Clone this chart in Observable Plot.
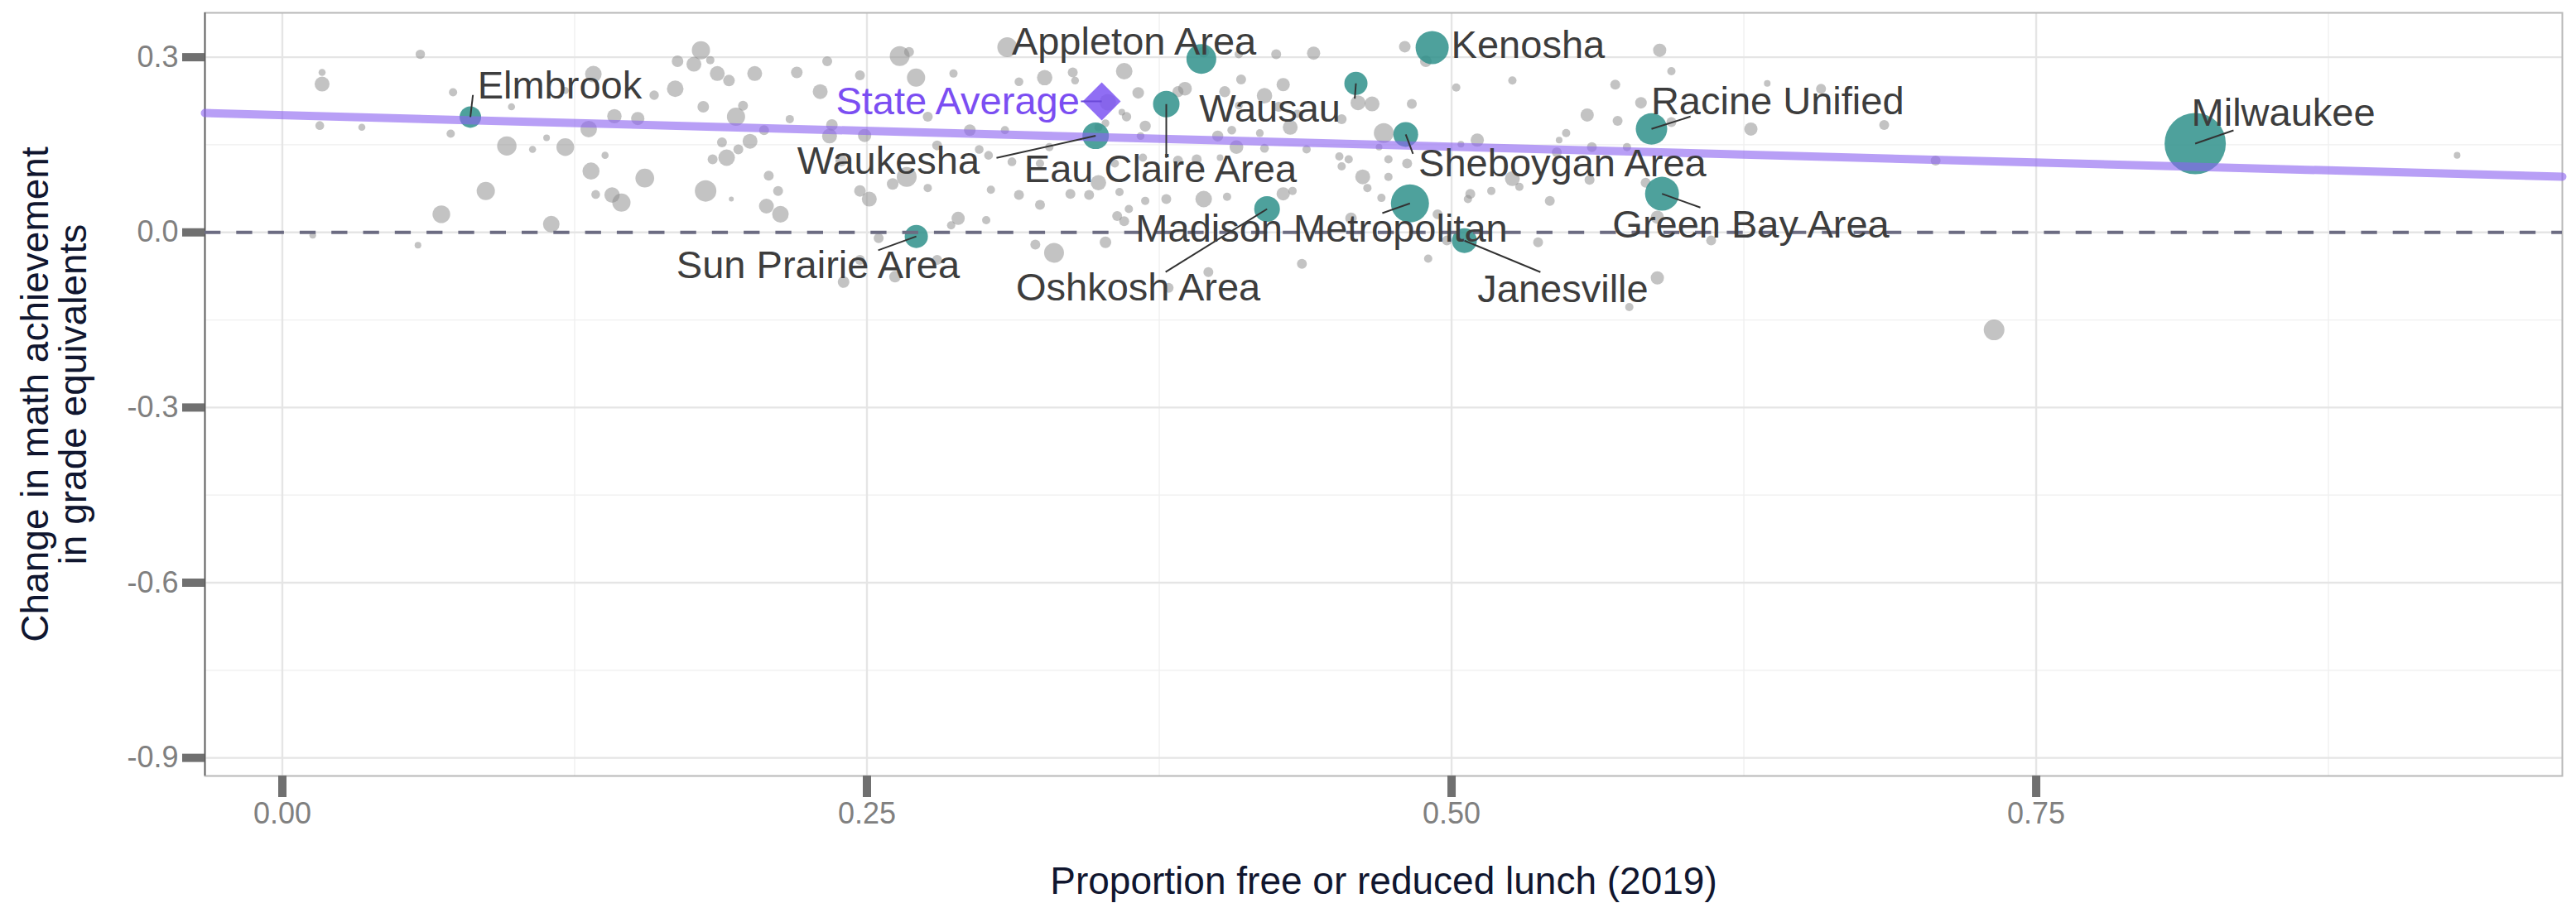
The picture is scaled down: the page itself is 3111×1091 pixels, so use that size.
<!DOCTYPE html>
<html><head><meta charset="utf-8">
<script src="https://cdn.jsdelivr.net/npm/d3@7"></script>
<script src="https://cdn.jsdelivr.net/npm/@observablehq/plot@0.6"></script>
<style>
html,body{margin:0;padding:0;background:#fff;}
#chart{width:3111px;height:1091px;}
</style>
</head><body><div id="chart"></div>
<script>
// ---------- DATA ----------
const districtNames = ["Elmbrook","Sun Prairie Area","Waukesha","Eau Claire Area","Appleton Area","Oshkosh Area","Wausau","Sheboygan Area","Madison Metropolitan","Kenosha","Janesville","Racine Unified","Green Bay Area","Milwaukee"];
const districtLunch  = [0.0804,0.2711,0.3478,0.3780,0.3930,0.4211,0.4591,0.4804,0.4822,0.4917,0.5055,0.5855,0.5900,0.8180];
const districtChange = [0.1975,-0.0070,0.1654,0.2197,0.2970,0.0400,0.2551,0.1677,0.0496,0.3165,-0.0142,0.1771,0.0661,0.1521];
const districtEnroll = [9260,10740,14030,14030,17750,13160,10740,12330,28980,21920,12330,19780,23030,75000];

const otherLunch = [
  0.059,0.017,0.017,0.073,0.016,0.034,0.072,0.098,0.121,0.133,0.159,0.142,0.152,0.131,0.096,0.107,0.113,0.121,0.138,0.132,0.155,0.087,0.134,0.141,0.145,0.068,0.115,0.013,0.058,
  0.179,0.169,0.176,0.183,0.186,0.191,0.202,0.168,0.180,0.194,0.197,0.206,0.188,0.200,0.195,0.190,0.184,0.208,0.181,0.192,0.207,0.213,0.212,0.217,0.220,0.230,0.233,0.234,0.235,0.239,0.247,0.249,0.247,0.251,0.255,0.264,0.268,0.271,0.261,0.267,0.276,0.262,0.247,0.240,0.280,0.287,0.276,0.280,0.289,0.286,0.301,0.310,0.322,0.330,0.379,0.396,0.352,0.357,0.360,0.428,0.426,0.431,0.434,0.428,0.432,0.436,0.425,0.441,0.438,
  0.360,0.326,0.338,0.339,0.315,0.366,0.353,0.359,0.361,0.369,0.367,0.383,0.386,0.403,0.410,0.420,0.409,0.394,0.409,0.294,0.309,0.298,0.302,0.312,0.324,0.328,0.349,0.352,0.356,0.368,0.383,0.391,0.400,0.408,0.420,0.401,0.303,0.315,0.324,0.337,0.345,0.349,0.358,0.362,0.369,0.378,0.394,0.404,0.406,0.418,
  0.480,0.489,0.460,0.466,0.483,0.502,0.526,0.589,0.594,0.570,0.635,0.658,0.581,0.558,0.571,0.594,0.628,0.685,0.707,0.471,0.453,0.469,0.511,0.504,0.549,0.546,0.560,0.575,0.545,0.452,0.456,0.473,0.481,0.453,0.462,0.473,0.464,0.526,0.529,0.517,0.508,0.507,0.542,0.559,0.583,0.470,0.457,0.494,0.498,0.490,0.537,0.588,0.611,0.588,0.576,
  0.930,0.732
];
const otherChange = [
  0.305,0.274,0.254,0.240,0.183,0.180,0.169,0.215,0.243,0.271,0.235,0.199,0.195,0.177,0.148,0.142,0.162,0.146,0.132,0.105,0.093,0.071,0.065,0.064,0.051,0.031,0.014,-0.005,-0.022,
  0.312,0.293,0.288,0.295,0.272,0.260,0.272,0.246,0.215,0.198,0.217,0.175,0.154,0.156,0.142,0.128,0.125,0.097,0.071,0.057,0.045,0.031,0.071,0.194,0.274,0.241,0.293,0.165,0.184,0.123,0.269,0.166,0.071,0.057,-0.010,0.302,0.309,0.265,0.083,0.095,0.076,-0.076,-0.047,-0.085,-0.047,0.272,0.198,0.149,0.024,0.012,0.021,0.317,-0.021,-0.035,-0.095,-0.068,-0.017,0.028,0.019,0.253,0.215,0.180,0.203,0.066,0.071,-0.054,0.305,0.307,0.142,
  0.276,0.265,0.274,0.260,0.258,0.239,0.223,0.206,0.198,0.182,0.165,0.241,0.246,0.241,0.262,0.234,0.217,0.309,0.305,0.175,0.175,0.142,0.132,0.121,0.118,0.146,0.180,0.187,0.118,0.128,0.123,0.125,0.165,0.146,0.144,0.128,0.073,0.064,0.047,0.066,0.064,0.085,0.069,0.040,0.054,0.057,0.057,0.061,0.175,0.170,
  0.318,0.293,0.222,0.220,0.220,0.248,0.260,0.312,0.276,0.253,0.255,0.246,0.222,0.201,0.191,0.189,0.177,0.184,0.123,0.170,0.194,0.146,0.158,0.151,0.170,0.158,0.146,0.146,0.137,0.130,0.125,0.125,0.118,0.113,0.095,0.095,0.076,0.092,0.078,0.071,0.066,0.057,0.054,0.090,0.085,0.059,0.024,0.031,-0.014,-0.045,-0.017,0.026,-0.014,-0.078,-0.128,
  0.132,-0.167
];
const otherEnroll = [
  1780,1010,4440,1370,1540,1010,1370,1010,1010,5480,1780,4150,3510,5480,7500,1010,880,6270,1010,5810,7000,6630,1540,4740,6630,6270,5480,880,880,
  6630,2690,4440,1370,4440,2690,4440,5480,2690,6630,1970,1970,1970,4440,1970,5480,1970,1970,9260,490,4440,5480,1970,1370,2690,4440,1970,4440,2690,2690,1970,3510,2690,4440,1970,7890,1970,6630,2690,7890,1370,2690,1970,2690,1970,1370,1970,1970,3510,1370,1370,7890,1970,7890,1970,1970,2690,1970,1970,3510,1970,4440,1370,3510,1370,1970,1970,3510,1370,
  5480,4740,1970,1210,1540,2690,5480,880,1780,2460,1210,2460,3770,2460,1970,4740,1210,2460,1370,2690,1370,1540,1540,1540,1370,1370,1370,1210,1370,1370,1970,1970,2460,3770,1540,880,1370,1970,1970,1970,1970,4740,1370,1370,1370,1970,5480,1370,1540,1210,
  2690,2690,4440,4440,1970,1370,1370,3510,1370,1970,880,1970,2690,3510,1970,1970,3510,1970,1970,7890,1970,880,3510,880,1370,880,1970,1370,1970,1370,1370,1370,1970,1370,4440,1370,1370,4440,1370,1370,1970,1370,1970,1970,1970,1370,2690,1970,1970,1370,1970,3510,1970,3510,1370,
  880,8560
];

const stateAvgName = "State Average";
const stateAvgLunch = 0.3504;
const stateAvgChange = 0.2244;

// fitted (weighted) regression line
const fitLunch  = [-0.0331, 0.975];
const fitChange = [0.2043, 0.0954];

const xTicks = [0, 0.25, 0.5, 0.75];
const xMinor = [0.125, 0.375, 0.625, 0.875];
const yTicks = [0.3, 0, -0.3, -0.6, -0.9];
const yMinor = [0.15, -0.15, -0.45, -0.75];

const xTitle = "Proportion free or reduced lunch (2019)";
const yTitle = "Change in math achievement\nin grade equivalents";

// ---------- LABEL LAYOUT (repelled label anchors, data units) ----------
const labelLayout = {
  "Elmbrook":            {lx:0.1186, ly:0.2508, sx:0.0815, sy:0.2353},
  "Sun Prairie Area":    {lx:0.2291, ly:-0.0567, sx:0.2548, sy:-0.0307},
  "Waukesha":            {lx:0.2592, ly:0.1219, sx:0.3054, sy:0.1276},
  "Eau Claire Area":     {lx:0.3755, ly:0.1077, sx:0.3780, sy:0.1276},
  "Appleton Area":       {lx:0.3642, ly:0.3253, sx:null, sy:null},
  "Oshkosh Area":        {lx:0.3660, ly:-0.0957, sx:0.3777, sy:-0.0680},
  "Wausau":              {lx:0.4223, ly:0.2112, sx:0.4586, sy:0.2291},
  "Sheboygan Area":      {lx:0.5474, ly:0.1169, sx:0.4835, sy:0.1346},
  "Madison Metropolitan":{lx:0.4444, ly:0.0050, sx:0.4704, sy:0.0330},
  "Kenosha":             {lx:0.5327, ly:0.3203, sx:null, sy:null},
  "Janesville":          {lx:0.5476, ly:-0.0978, sx:0.5380, sy:-0.0680},
  "Racine Unified":      {lx:0.6394, ly:0.2239, sx:0.6022, sy:0.1984},
  "Green Bay Area":      {lx:0.6280, ly:0.0128, sx:0.6064, sy:0.0425},
  "Milwaukee":           {lx:0.8557, ly:0.2045, sx:0.8344, sy:0.1748}
};
const stateLabel = {lx:0.2888, ly:0.2232, sx:0.3415, sy:0.2244};

// ---------- BUILD ----------
const districts = districtNames.map((n,i)=>({name:n, lunch:districtLunch[i], change:districtChange[i], enroll:districtEnroll[i], ...labelLayout[n]}));
const others = otherLunch.map((x,i)=>({lunch:x, change:otherChange[i], enroll:otherEnroll[i]}));
const fit = fitLunch.map((x,i)=>({lunch:x, change:fitChange[i]}));
const state = [{name:stateAvgName, lunch:stateAvgLunch, change:stateAvgChange, ...stateLabel}];

const font = "'Liberation Sans', Arial, Helvetica, sans-serif";
const xDomain = [-0.0331, 0.975];
const yDomain = [-0.931, 0.376];

const chart = Plot.plot({
  width: 3111, height: 1091,
  marginLeft: 247, marginRight: 17, marginTop: 15, marginBottom: 154,
  style: {fontFamily: font, background: "#ffffff"},
  x: {domain: xDomain},
  y: {domain: yDomain},
  r: {type: "sqrt", domain: [0, 75000], range: [0, 37]},
  marks: [
    Plot.gridX(xMinor, {stroke: "#efefef", strokeOpacity: 1, strokeWidth: 1.3}),
    Plot.gridY(yMinor, {stroke: "#efefef", strokeOpacity: 1, strokeWidth: 1.3}),
    Plot.gridX(xTicks, {stroke: "#e5e5e5", strokeOpacity: 1, strokeWidth: 2.4}),
    Plot.gridY(yTicks, {stroke: "#e5e5e5", strokeOpacity: 1, strokeWidth: 2.4}),
    Plot.frame({stroke: "#b8b8b8", strokeWidth: 2}),
    Plot.ruleX([xDomain[0]], {stroke: "#555555", strokeWidth: 1.6}),
    Plot.dot(others, {x: "lunch", y: "change", r: "enroll", fill: "#8c8c8c", fillOpacity: 0.52}),
    Plot.dot(districts, {x: "lunch", y: "change", r: "enroll", fill: "#2f908b", fillOpacity: 0.85}),
    Plot.line(fit, {x: "lunch", y: "change", stroke: "#8c64f0", strokeOpacity: 0.62, strokeWidth: 10}),
    Plot.ruleY([0], {stroke: "#6c6c82", strokeWidth: 4, strokeDasharray: "19.3,19"}),
    Plot.link(districts.filter(d => d.sx != null), {x1: "lunch", y1: "change", x2: "sx", y2: "sy", stroke: "#333333", strokeWidth: 2}),
    Plot.dot(state, {x: "lunch", y: "change", symbol: "diamond2", r: 20.7, fill: "#7d55f2", fillOpacity: 0.85, stroke: "none"}),
    Plot.link(state, {x1: "sx", y1: "sy", x2: "lunch", y2: "change", stroke: "#6a48d8", strokeWidth: 2}),
    Plot.text(districts, {x: "lx", y: "ly", text: "name", fontSize: 47, fill: "#3d3d3d", textAnchor: "middle", lineAnchor: "middle"}),
    Plot.text(state, {x: "lx", y: "ly", text: "name", fontSize: 47, fill: "#7b4ef2", textAnchor: "middle", lineAnchor: "middle"}),
    // axis ticks (thick grey) and labels
    Plot.axisX(xTicks, {tickSize: 26, stroke: "#707070", strokeWidth: 10, fill: "none", label: null}),
    Plot.axisX(xTicks, {tickSize: 0, tickPadding: 32, tickFormat: d => d.toFixed(2), fill: "#808080", fontSize: 36, label: null}),
    Plot.axisY(yTicks, {tickSize: 27, stroke: "#707070", strokeWidth: 10, fill: "none", label: null}),
    Plot.axisY(yTicks, {tickSize: 0, tickPadding: 32, tickFormat: d => d.toFixed(1), fill: "#808080", fontSize: 36, label: null}),
    // axis titles
    Plot.text([xTitle], {text: d => d, frameAnchor: "bottom", dy: 128, fontSize: 46, fill: "#10162f", textAnchor: "middle", lineAnchor: "middle"}),
    Plot.text([yTitle], {text: d => d, frameAnchor: "left", dx: -181.5, rotate: -90, fontSize: 46, lineHeight: 1.02, fill: "#10162f", textAnchor: "middle", lineAnchor: "middle"})
  ]
});
document.getElementById("chart").appendChild(chart);
</script>
</body></html>
